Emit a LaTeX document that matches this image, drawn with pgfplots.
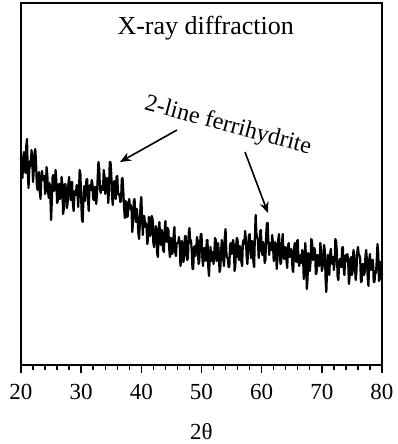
\documentclass[border=0pt]{standalone}
\usepackage{pgfplots}
\pgfplotsset{compat=1.18}
\usepackage{pgfplotstable}
\usepackage{fontspec}
\setmainfont{Liberation Serif}
\usetikzlibrary{arrows.meta}
\pgfplotstableread{
x y
20 208
20.125 191
20.25 187
20.375 208
20.5 213
20.625 198
20.75 192
20.875 219
21 226
21.125 193
21.25 177
21.375 195
21.5 204
21.625 199
21.75 215
21.875 205
22 183
22.125 195
22.25 212
22.375 216
22.5 202
22.625 181
22.75 175
22.875 189
23 193
23.125 173
23.25 166
23.375 188
23.5 194
23.625 185
23.75 186
23.875 189
24 171
24.125 176
24.25 198
24.375 190
24.5 173
24.625 167
24.75 182
24.875 170
25 145
25.125 164
25.25 188
25.375 190
25.5 174
25.625 177
25.75 195
25.875 184
26 162
26.125 164
26.25 180
26.375 181
26.5 166
26.625 172
26.75 188
26.875 180
27 151
27.125 157
27.25 180
27.375 181
27.5 173
27.625 157
27.75 162
27.875 181
28 188
28.125 174
28.25 165
28.375 183
28.5 183
28.625 161
28.75 154
28.875 169
29 174
29.125 170
29.25 180
29.375 177
29.5 158
29.625 172
29.75 195
29.875 191
30 166
30.125 146
30.25 143
30.375 165
30.5 179
30.625 164
30.75 171
30.875 185
31 186
31.125 167
31.25 154
31.375 176
31.5 180
31.625 175
31.75 185
31.875 181
32 166
32.125 165
32.25 178
32.375 178
32.5 161
32.625 170
32.75 188
32.875 203
33 197
33.125 176
33.25 172
33.375 179
33.5 177
33.625 175
33.75 195
33.875 189
34 171
34.125 176
34.25 187
34.375 184
34.5 162
34.625 175
34.75 203
34.875 203
35 192
35.125 169
35.25 160
35.375 180
35.5 184
35.625 170
35.75 166
35.875 188
36 189
36.125 171
36.25 170
36.375 171
36.5 163
36.625 164
36.75 186
36.875 187
37 175
37.125 158
37.25 147
37.375 164
37.5 162
37.625 148
37.75 149
37.875 163
38 166
38.125 156
38.25 160
38.375 155
38.5 133
38.625 144
38.75 164
38.875 166
39 148
39.125 143
39.25 156
39.375 148
39.5 132
39.625 126
39.75 141
39.875 161
40 168
40.125 146
40.25 130
40.375 149
40.5 149
40.625 138
40.75 142
40.875 137
41 121
41.125 128
41.25 148
41.375 147
41.5 129
41.625 134
41.75 149
41.875 146
42 122
42.125 118
42.25 132
42.375 139
42.5 137
42.625 112
42.75 108
42.875 132
43 143
43.125 129
43.25 120
43.375 135
43.5 132
43.625 115
43.75 113
43.875 134
44 144
44.125 127
44.25 123
44.375 137
44.5 135
44.625 117
44.75 108
44.875 127
45 126
45.125 111
45.25 114
45.375 130
45.5 138
45.625 113
45.75 109
45.875 122
46 122
46.125 122
46.25 128
46.375 123
46.5 99
46.625 104
46.75 124
46.875 119
47 103
47.125 109
47.25 129
47.375 129
47.5 113
47.625 105
47.75 107
47.875 132
48 137
48.125 122
48.25 125
48.375 115
48.5 96
48.625 96
48.75 117
48.875 119
49 109
49.125 116
49.25 128
49.375 124
49.5 101
49.625 103
49.75 120
49.875 131
50 131
50.125 108
50.25 99
50.375 116
50.5 117
50.625 106
50.75 104
50.875 125
51 125
51.125 98
51.25 89
51.375 108
51.5 118
51.625 104
51.75 112
51.875 113
52 101
52.125 111
52.25 127
52.375 125
52.5 104
52.625 105
52.75 122
52.875 113
53 93
53.125 96
53.25 113
53.375 125
53.5 120
53.625 105
53.75 99
53.875 128
54 136
54.125 113
54.25 107
54.375 107
54.5 98
54.625 98
54.75 120
54.875 122
55 111
55.125 115
55.25 125
55.375 119
55.5 94
55.625 99
55.75 119
55.875 127
56 125
56.125 108
56.25 105
56.375 119
56.5 116
56.625 103
56.75 99
56.875 122
57 125
57.125 121
57.25 134
57.375 126
57.5 109
57.625 101
57.75 114
57.875 129
58 131
58.125 116
58.25 107
58.375 124
58.5 123
58.625 103
58.75 98
58.875 129
59 150
59.125 132
59.25 127
59.375 125
59.5 107
59.625 116
59.75 134
59.875 135
60 115
60.125 110
60.25 123
60.375 117
60.5 102
60.625 105
60.75 130
60.875 142
61 142
61.125 123
61.25 110
61.375 122
61.5 116
61.625 115
61.75 130
61.875 122
62 104
62.125 107
62.25 123
62.375 118
62.5 96
62.625 106
62.75 125
62.875 131
63 117
63.125 101
63.25 103
63.375 121
63.5 131
63.625 108
63.75 106
63.875 118
64 117
64.125 104
64.25 97
64.375 119
64.5 122
64.625 108
64.75 109
64.875 116
65 113
65.125 96
65.25 93
65.375 116
65.5 122
65.625 108
65.75 103
65.875 124
66 125
66.125 103
66.25 99
66.375 109
66.5 110
66.625 102
66.75 115
66.875 107
67 86
67.125 101
67.25 122
67.375 108
67.5 76
67.625 86
67.75 112
67.875 108
68 94
68.125 103
68.25 126
68.375 124
68.5 105
68.625 106
68.75 117
68.875 114
69 91
69.125 92
69.25 110
69.375 109
69.5 99
69.625 100
69.75 122
69.875 114
70 94
70.125 98
70.25 107
70.375 120
70.5 114
70.625 86
70.75 73
70.875 97
71 110
71.125 93
71.25 90
71.375 111
71.5 116
71.625 104
71.75 101
71.875 108
72 95
72.125 102
72.25 126
72.375 124
72.5 113
72.625 88
72.75 85
72.875 102
73 106
73.125 99
73.25 98
73.375 117
73.5 118
73.625 96
73.75 90
73.875 105
74 110
74.125 104
74.25 111
74.375 104
74.5 81
74.625 89
74.75 106
74.875 108
75 90
75.125 94
75.25 115
75.375 111
75.5 98
75.625 85
75.75 93
75.875 112
76 118
76.125 111
76.25 110
76.375 106
76.5 83
76.625 84
76.75 101
76.875 101
77 90
77.125 93
77.25 109
77.375 115
77.5 104
77.625 87
77.75 79
77.875 105
78 111
78.125 95
78.25 96
78.375 105
78.5 105
78.625 83
78.75 83
78.875 94
79 92
79.125 104
79.25 121
79.375 112
79.5 84
79.625 86
79.75 103
79.875 102
80 90
}\xrd
\begin{document}
\begin{tikzpicture}
\begin{axis}[
  scale only axis,
  width=361pt, height=362pt,
  xmin=20, xmax=80, ymin=0, ymax=362,
  axis line style={line width=1.6pt},
  xtick={20,30,...,80},
  minor x tick num=4,
  ytick=\empty,
  xtick pos=bottom,
  tick align=outside,
  major tick length=8pt,
  minor tick length=5pt,
  every tick/.style={black, line width=1.4pt},
  /pgf/number format/assume math mode=true,
  ticklabel style={font=\fontsize{23}{25}\selectfont},
  xticklabel style={yshift=-8pt},
  xlabel={2θ},
  xlabel style={font=\fontsize{23}{25}\selectfont, yshift=-16pt},
  clip=false,
]
\addplot[black, line width=2.2pt, line join=round] table[x=x,y=y] {\xrd};
\node[font=\fontsize{26}{28}\selectfont] at (axis cs:50.7,337) {X-ray diffraction};
\node[font=\fontsize{24}{26}\selectfont, rotate=-15] at (axis cs:54.4,239) {2-line ferrihydrite};
\draw[line width=1.6pt, -{Stealth[length=11pt,width=9pt]}] (axis cs:45.93,235) -- (axis cs:36.45,203);
\draw[line width=1.6pt, -{Stealth[length=11pt,width=9pt]}] (axis cs:57.23,213) -- (axis cs:61.05,152);
\end{axis}
\pgfresetboundingbox
\path ([xshift=-21pt,yshift=-79pt]current axis.south west) rectangle ([xshift=16pt,yshift=3pt]current axis.north east);
\end{tikzpicture}
\end{document}
